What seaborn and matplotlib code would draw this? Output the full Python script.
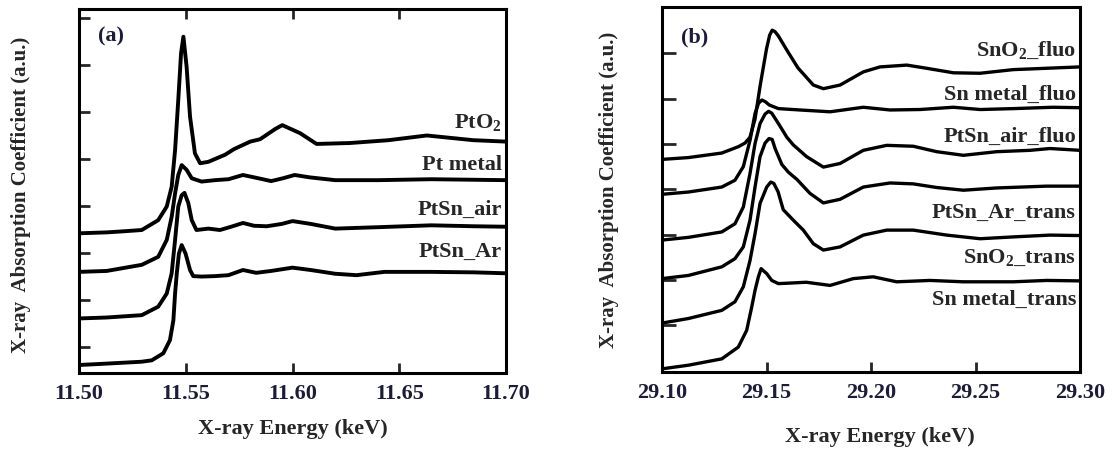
# XANES spectra, Pt L3 edge (a) and Sn K edge (b)
import numpy as np
import pandas as pd
import matplotlib
matplotlib.use('Agg')
import matplotlib.pyplot as plt
import matplotlib.transforms as mtransforms
import seaborn as sns

# ---- panel (a): Pt edge (energy keV, offset intensity) ----
pto2_e = [11.500, 11.513, 11.520, 11.5294, 11.5371, 11.5411, 11.5434, 11.5450, 11.5465, 11.5478,
          11.5489, 11.5504, 11.5520, 11.5543, 11.5567, 11.5606, 11.5684, 11.5726, 11.5802, 11.5848,
          11.5920, 11.5952, 11.6035, 11.6113, 11.6270, 11.6450, 11.6629, 11.6846, 11.700]
pto2_v = [2.42, 2.44, 2.46, 2.49, 2.70, 2.99, 3.41, 4.19, 5.26, 6.25,
          6.60, 5.96, 4.90, 4.12, 3.91, 3.94, 4.09, 4.21, 4.37, 4.42,
          4.64, 4.72, 4.55, 4.32, 4.34, 4.40, 4.50, 4.40, 4.37]

ptmetal_e = [11.500, 11.513, 11.5294, 11.5371, 11.5411, 11.5434, 11.5450, 11.5465, 11.5481, 11.5504,
             11.5528, 11.5574, 11.5637, 11.5700, 11.5768, 11.5830, 11.5900, 11.5955, 11.6010, 11.6080,
             11.6200, 11.6400, 11.6650, 11.700]
ptmetal_v = [1.60, 1.62, 1.75, 1.92, 2.28, 2.77, 3.27, 3.66, 3.87, 3.77,
             3.59, 3.52, 3.55, 3.57, 3.66, 3.60, 3.53, 3.59, 3.66, 3.61,
             3.55, 3.55, 3.57, 3.55]

ptsn_air_e = [11.500, 11.513, 11.5294, 11.5371, 11.5411, 11.5434, 11.5450, 11.5465, 11.5481, 11.5494,
              11.5512, 11.5528, 11.5550, 11.5606, 11.5660, 11.5720, 11.5768, 11.5820, 11.5880, 11.5950,
              11.6000, 11.6085, 11.6200, 11.6400, 11.6650, 11.6850, 11.700]
ptsn_air_v = [0.61, 0.63, 0.68, 0.86, 1.14, 1.57, 2.28, 2.99, 3.23, 3.28,
              3.06, 2.70, 2.49, 2.52, 2.49, 2.57, 2.64, 2.58, 2.57, 2.62,
              2.68, 2.62, 2.52, 2.55, 2.59, 2.57, 2.56]

ptsn_ar_e = [11.500, 11.513, 11.5294, 11.5341, 11.5395, 11.5426, 11.5442, 11.5450, 11.5458, 11.5468,
             11.5481, 11.5499, 11.5520, 11.5535, 11.5574, 11.5637, 11.5700, 11.5768, 11.5830, 11.5900,
             11.6000, 11.6085, 11.6200, 11.6300, 11.6430, 11.6650, 11.6850, 11.700]
ptsn_ar_v = [-0.38, -0.35, -0.31, -0.28, -0.13, 0.15, 0.57, 1.14, 1.57, 1.99,
             2.17, 1.99, 1.64, 1.51, 1.50, 1.51, 1.53, 1.64, 1.58, 1.62,
             1.69, 1.64, 1.56, 1.53, 1.60, 1.60, 1.59, 1.57]

# ---- panel (b): Sn edge ----
sno2_fluo_e = [29.100, 29.1126, 29.1286, 29.1365, 29.1397, 29.1421, 29.1445, 29.1470, 29.1500, 29.1515,
               29.1527, 29.1540, 29.1557, 29.1600, 29.1650, 29.1724, 29.1772, 29.1852, 29.1963, 29.2043,
               29.2171, 29.2266, 29.2394, 29.2522, 29.2680, 29.2840, 29.300]
sno2_fluo_v = [3.66, 3.70, 3.80, 3.94, 4.02, 4.15, 4.55, 5.30, 6.10, 6.40,
               6.51, 6.48, 6.38, 6.05, 5.68, 5.30, 5.22, 5.30, 5.59, 5.70,
               5.74, 5.67, 5.57, 5.56, 5.64, 5.67, 5.70]

snmetal_fluo_e = [29.100, 29.1126, 29.1286, 29.1349, 29.1389, 29.1421, 29.1445, 29.1462, 29.1478, 29.1495,
                  29.1513, 29.1557, 29.1660, 29.1804, 29.1963, 29.2091, 29.2234, 29.2394, 29.2522, 29.2680,
                  29.2870, 29.300]
snmetal_fluo_v = [2.89, 2.94, 3.05, 3.20, 3.50, 4.08, 4.67, 4.90, 4.97, 4.93,
                  4.86, 4.78, 4.75, 4.71, 4.81, 4.75, 4.76, 4.81, 4.76, 4.78,
                  4.81, 4.80]

ptsn_air_fluo_e = [29.100, 29.1126, 29.1286, 29.1349, 29.1389, 29.1421, 29.1445, 29.1469, 29.1493, 29.1510,
                   29.1525, 29.1557, 29.1597, 29.1628, 29.1692, 29.1772, 29.1852, 29.1963, 29.2075, 29.2202,
                   29.2314, 29.2442, 29.2601, 29.2761, 29.2856, 29.300]
ptsn_air_fluo_v = [1.88, 1.94, 2.06, 2.24, 2.61, 3.35, 4.01, 4.45, 4.66, 4.72,
                   4.68, 4.45, 4.15, 3.98, 3.72, 3.49, 3.57, 3.86, 3.97, 3.95,
                   3.83, 3.75, 3.83, 3.86, 3.90, 3.86]

ptsn_ar_trans_e = [29.100, 29.1126, 29.1286, 29.1349, 29.1389, 29.1421, 29.1445, 29.1469, 29.1493, 29.1512,
                   29.1527, 29.1541, 29.1573, 29.1604, 29.1645, 29.1708, 29.1772, 29.1852, 29.1963, 29.2091,
                   29.2202, 29.2314, 29.2442, 29.2601, 29.2840, 29.300]
ptsn_ar_trans_v = [1.03, 1.10, 1.29, 1.47, 1.73, 2.32, 3.05, 3.72, 4.02, 4.12,
                   4.10, 3.90, 3.55, 3.38, 3.22, 2.91, 2.70, 2.78, 3.05, 3.14,
                   3.12, 3.04, 2.98, 3.03, 3.07, 3.07]

sno2_trans_e = [29.100, 29.1126, 29.1286, 29.1349, 29.1389, 29.1421, 29.1445, 29.1469, 29.1501, 29.1520,
                29.1535, 29.1555, 29.1580, 29.1628, 29.1676, 29.1724, 29.1772, 29.1852, 29.1963, 29.2075,
                29.2202, 29.2362, 29.2522, 29.2680, 29.2856, 29.300]
sno2_trans_v = [0.05, 0.15, 0.33, 0.52, 0.85, 1.43, 2.02, 2.69, 3.05, 3.16,
                3.13, 2.95, 2.55, 2.32, 2.10, 1.80, 1.66, 1.73, 1.99, 2.10,
                2.10, 1.99, 1.91, 1.95, 1.99, 1.98]

snmetal_trans_e = [29.100, 29.1126, 29.1286, 29.1365, 29.1405, 29.1429, 29.1445, 29.1461, 29.1474, 29.1501,
                   29.1525, 29.1557, 29.1605, 29.1690, 29.1804, 29.1915, 29.2010, 29.2123, 29.2282, 29.2442,
                   29.2680, 29.2840, 29.300]
snmetal_trans_v = [-0.96, -0.88, -0.74, -0.48, -0.11, 0.40, 0.77, 1.07, 1.25, 1.14,
                   0.99, 0.92, 0.93, 0.95, 0.88, 1.03, 1.07, 0.96, 0.99, 0.96,
                   0.96, 0.99, 0.98]

labels_a = ['PtO$_2$', 'Pt metal', 'PtSn_air', 'PtSn_Ar']
label_y_a = [4.77, 3.87, 2.91, 2.02]
labels_b = ['SnO$_2$_fluo', 'Sn metal_fluo', 'PtSn_air_fluo', 'PtSn_Ar_trans', 'SnO$_2$_trans', 'Sn metal_trans']
label_y_b = [6.07, 5.08, 4.15, 2.47, 1.48, 0.55]

xticks_a = [11.50, 11.55, 11.60, 11.65, 11.70]
xticks_b = [29.10, 29.15, 29.20, 29.25, 29.30]

curves_a = [(pto2_e, pto2_v), (ptmetal_e, ptmetal_v), (ptsn_air_e, ptsn_air_v), (ptsn_ar_e, ptsn_ar_v)]
curves_b = [(sno2_fluo_e, sno2_fluo_v), (snmetal_fluo_e, snmetal_fluo_v), (ptsn_air_fluo_e, ptsn_air_fluo_v),
            (ptsn_ar_trans_e, ptsn_ar_trans_v), (sno2_trans_e, sno2_trans_v), (snmetal_trans_e, snmetal_trans_v)]

# style
sns.set_style('ticks')
plt.rcParams['font.family'] = ['Liberation Serif', 'DejaVu Serif']
plt.rcParams['font.weight'] = 'bold'
plt.rcParams['mathtext.fontset'] = 'custom'
plt.rcParams['mathtext.rm'] = 'Liberation Serif:bold'
plt.rcParams['mathtext.it'] = 'Liberation Serif:bold'
plt.rcParams['mathtext.bf'] = 'Liberation Serif:bold'

fig = plt.figure(figsize=(11.16, 4.5), dpi=100)
ax_a = fig.add_axes([0.0708, 0.1711, 0.3826, 0.809])
ax_b = fig.add_axes([0.5932, 0.1733, 0.3746, 0.811])

def draw_panel(ax, curves, labels, label_y, xticks, ylim, yticks, lw, tag, tag_y, top_ticks, tick_len):
    for e, v in curves:
        df = pd.DataFrame({'E': e, 'mu': v})
        sns.lineplot(data=df, x='E', y='mu', ax=ax, color='black', linewidth=lw,
                     estimator=None, sort=False, legend=False)
    trans = mtransforms.blended_transform_factory(ax.transAxes, ax.transData)
    for lab, y in zip(labels, label_y):
        ax.text(0.99, y, lab, transform=trans, ha='right', va='center', fontsize=16, fontweight='bold')
    ax.text(0.045, tag_y, tag, transform=ax.transAxes,
            ha='left', va='center', fontsize=16, fontweight='bold', color='#1c1c3a')
    ax.set_xlim(xticks[0], xticks[-1])
    ax.set_ylim(*ylim)
    ax.set_xticks(xticks)
    ax.set_xticklabels([f'{t:.2f}' for t in xticks], fontsize=16, fontweight='bold', color='#1c1c3a')
    ax.set_yticks(yticks)
    ax.set_yticklabels([])
    ax.tick_params(axis='x', direction='in', length=7, width=2, top=top_ticks, bottom=True, pad=8)
    ax.tick_params(axis='y', direction='in', length=tick_len, width=2, left=True, right=False)
    for s in ax.spines.values():
        s.set_linewidth(2.2)
        s.set_color('black')
    ax.set_xlabel('X-ray Energy (keV)', fontsize=16, fontweight='bold')
    ax.set_ylabel('X-ray  Absorption Coefficient (a.u.)', fontsize=15, fontweight='bold')

draw_panel(ax_a, curves_a, labels_a, label_y_a, xticks_a, (-0.55, 7.19), range(0, 8), 2.8,
           '(a)', 0.925, True, 8)
draw_panel(ax_b, curves_b, labels_b, label_y_b, xticks_b, (-1.03, 7.02), range(0, 7), 2.4,
           '(b)', 0.918, False, 10)

ax_a.xaxis.set_label_coords(0.5, -0.125)
ax_b.xaxis.set_label_coords(0.52, -0.15)
ax_a.yaxis.set_label_coords(-0.112, 0.49)
ax_b.yaxis.set_label_coords(-0.103, 0.5)

fig.savefig('out.png', dpi=100)
